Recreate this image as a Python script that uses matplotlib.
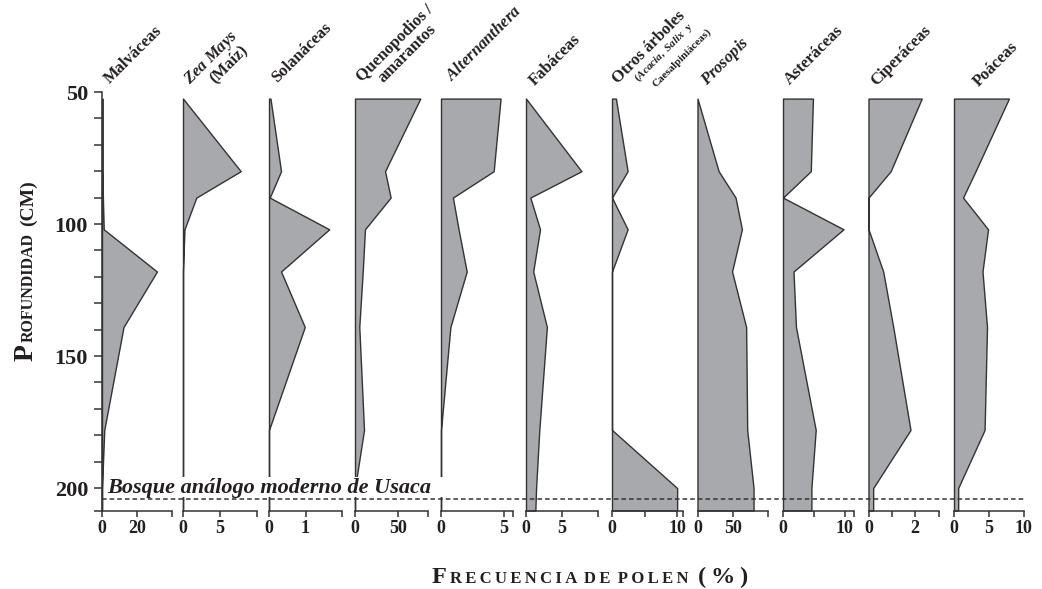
import matplotlib
matplotlib.use("Agg")
import matplotlib.pyplot as plt
from matplotlib.lines import Line2D
from matplotlib.patches import Rectangle
from matplotlib.transforms import IdentityTransform, blended_transform_factory

plt.rcParams['font.family'] = ['Liberation Serif', 'DejaVu Serif']
plt.rcParams['font.weight'] = 'bold'
plt.rcParams['mathtext.fontset'] = 'custom'
plt.rcParams['mathtext.rm'] = 'Liberation Serif:bold'
plt.rcParams['mathtext.it'] = 'Liberation Serif:italic:bold'
plt.rcParams['mathtext.bf'] = 'Liberation Serif:bold'
plt.rcParams['text.color'] = '#231f20'
plt.rcParams['xtick.color'] = '#333333'
plt.rcParams['ytick.color'] = '#333333'
plt.rcParams['xtick.labelcolor'] = '#231f20'
plt.rcParams['ytick.labelcolor'] = '#231f20'

# ============================================
# DATOS (frecuencia de polen, %)
# ============================================

profundidad = [52.5, 80, 90, 102, 118, 139, 178, 200, 208.5]

malvaceas    = [0.3, 0.3, 0.5, 1.0, 31.4, 12.3, 1.3, 0, 0]
zea_mays     = [0, 7.8, 1.8, 0.2, 0, 0, 0, 0, 0]
solanaceas   = [0.04, 0.33, 0.02, 1.65, 0.33, 0.98, 0, 0, 0]
quenopodios  = [76, 35, 41.5, 11.6, 9.0, 5.0, 10.5, 0, 0]
alternanthera = [4.75, 4.2, 0.95, 1.4, 2.05, 0.75, 0, 0, 0]
fabaceas     = [0, 7.7, 0.6, 1.95, 1.0, 2.9, 1.85, 1.4, 1.3]
otros        = [0.6, 2.4, 0, 2.4, 0, 0, 0, 10, 10]
prosopis     = [0, 30, 54, 63, 49, 69, 70.5, 79.5, 79.5]
asteraceas   = [4.85, 4.5, 0, 9.8, 1.7, 2.1, 5.3, 4.6, 4.6]
ciperaceas   = [2.28, 0.95, 0, 0, 0.63, 1.06, 1.8, 0.2, 0.2]
poaceas      = [7.9, 3.1, 1.3, 4.9, 4.1, 4.75, 4.4, 0.6, 0.6]

series = [malvaceas, zea_mays, solanaceas, quenopodios, alternanthera,
          fabaceas, otros, prosopis, asteraceas, ciperaceas, poaceas]

x_max = [40, 10, 2, 85, 5.7, 10, 10.9, 100, 11.5, 3, 10]
x_ticks = [[0, 20, 40], [0, 5, 10], [0, 1, 2], [0, 50, 85], [0, 5, 5.7],
           [0, 5, 10], [0, 5, 10, 10.9], [0, 50, 100], [0, 5, 10, 11.5],
           [0, 1, 2, 3], [0, 5, 10]]
x_etiquetas = [["0", "20", ""], ["0", "5", ""], ["0", "1", ""], ["0", "50", ""],
               ["0", "5", ""], ["0", "5", ""], ["0", "", "10", ""],
               ["0", "50", ""], ["0", "", "10", ""], ["0", "", "2", ""],
               ["0", "5", "10"]]

# cabeceras: (texto, tamaño, dx, dy) -> dx, dy en px desde la esquina superior del panel
cabeceras = [
    [("Malváceas", 12, 8, 8.5)],
    [(r"$\mathit{Zea\ Mays}$", 12, 7, 7), ("(Maíz)", 12, 32, 9)],
    [("Solanáceas", 12, 8, 9)],
    [("Quenopodios /", 12, 7, 10), ("amarantos", 12, 28, 9)],
    [(r"$\mathit{Alternanthera}$", 12, 11, 10)],
    [("Fabáceas", 12, 8.5, 6)],
    [("Otros árboles", 12, 5.5, 7.5),
     (r"$\mathrm{(}\mathit{Acacia}\mathrm{,\ }\mathit{Salix}\ \ \mathrm{y}$", 8, 26, 10),
     ("Caesalpiniáceas)", 8, 44, 5)],
    [(r"$\mathit{Prosopis}$", 12, 9.5, 6)],
    [("Asteráceas", 12, 7, 7)],
    [("Ciperáceas", 12, 7.5, 6)],
    [("Poáceas", 12, 25, 5)],
]

prof_ticks = [50, 100, 150, 200]
prof_menores = [60, 70, 80, 90, 110, 120, 130, 140, 160, 170, 180, 190, 208.5]
linea_usaca = 204.2

# ============================================
# FIGURA
# ============================================

W, H = 1042, 589
fig = plt.figure(figsize=(W / 100, H / 100), dpi=100)

izq = [102, 183, 269, 355, 441, 526, 612, 697.5, 783, 868.5, 954]
der = [172, 257, 342, 428, 512.5, 598, 683, 768, 854, 938.5, 1023.5]
arriba, abajo = 92, 510.5

gris = '#a8a9ac'
borde = '#333333'

ejes = []
for i, vals in enumerate(series):
    ax = fig.add_axes([izq[i] / W, 1 - abajo / H, (der[i] - izq[i]) / W, (abajo - arriba) / H])
    ax.patch.set_alpha(0)
    ax.fill_betweenx(profundidad, 0, vals, facecolor=gris, edgecolor=borde,
                     linewidth=1.0, clip_on=False)
    ax.set_xlim(0, x_max[i])
    ax.set_ylim(profundidad[-1], 50)
    for s in ['top', 'right', 'left']:
        ax.spines[s].set_visible(False)
    ax.spines['bottom'].set_color(borde)
    ax.spines['bottom'].set_linewidth(1.1)
    ax.set_xticks(x_ticks[i])
    ax.set_xticklabels(x_etiquetas[i])
    ax.tick_params(axis='x', direction='out', length=4, width=1.1, labelsize=13, pad=3)
    ax.set_yticks([])

    for txt, tam, dx, dy in cabeceras[i]:
        ax.annotate(txt, xy=(0, 1), xycoords='axes fraction',
                    xytext=(dx, dy), textcoords='offset pixels',
                    rotation=45, rotation_mode='anchor', ha='left', va='baseline',
                    fontsize=tam, fontweight='bold', annotation_clip=False)
    ejes.append(ax)

# eje de profundidad
ax1 = ejes[0]
ax1.spines['left'].set_visible(True)
ax1.spines['left'].set_color(borde)
ax1.spines['left'].set_linewidth(1.1)
ax1.set_yticks(prof_ticks)
ax1.set_yticks(prof_menores, minor=True)
ax1.tick_params(axis='y', which='both', direction='out', length=6, width=1.1,
                labelsize=16, pad=4)

# linea discontinua del bosque moderno
trans = blended_transform_factory(fig.transFigure, ax1.transData)
fig.add_artist(Line2D([izq[0] / W, der[-1] / W], [linea_usaca, linea_usaca],
                      transform=trans, color=borde, linewidth=1.1,
                      linestyle=(0, (3, 2))))

px = IdentityTransform()
fig.add_artist(Rectangle((104, H - 497), 341, 20, transform=px,
                         facecolor='white', edgecolor='none', zorder=5))
fig.text(107, H - 493, "Bosque análogo moderno de Usaca", transform=px,
         fontsize=16, style='italic', fontweight='bold', va='baseline', zorder=6)

# ============================================
# ETIQUETAS EN VERSALITAS
# ============================================

def versalitas(piezas, centro, base, vertical=False):
    r = fig.canvas.get_renderer()
    textos, largos = [], []
    for txt, tam, hueco in piezas:
        t = fig.text(0, 0, txt, fontsize=tam, transform=px, ha='left',
                     va='baseline', rotation=90 if vertical else 0,
                     rotation_mode='anchor')
        bb = t.get_window_extent(r)
        textos.append(t)
        largos.append((bb.height if vertical else bb.width) + hueco)
    pos = centro - sum(largos) / 2
    for t, l in zip(textos, largos):
        t.set_position((base, pos) if vertical else (pos, base))
        pos += l


def espaciar(palabras):
    return ' \u2009'.join('\u2009'.join(p) for p in palabras.split(' '))


versalitas([("F", 17.5, 3), (espaciar("RECUENCIA DE POLEN"), 12, 10),
            ("(\u2009%\u2009)", 17.5, 0)], 590, H - 583)
versalitas([("P", 20, 2), ("ROFUNDIDAD", 11.5, 7),
            ("(CM)", 14, 0)], H - 271, 33, vertical=True)

fig.savefig('out.png', dpi=100)
